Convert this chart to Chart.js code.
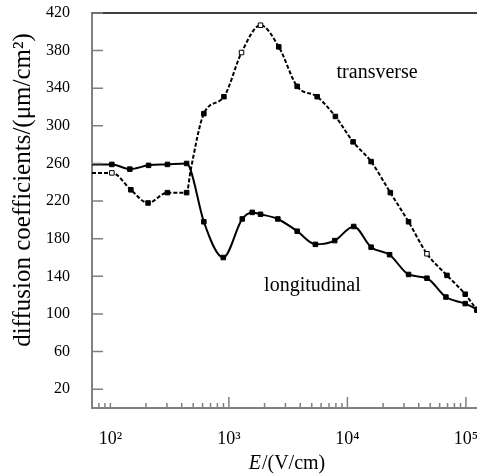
<!DOCTYPE html>
<html>
<head>
<meta charset="utf-8">
<script src="https://cdn.jsdelivr.net/npm/chart.js@4.4.0/dist/chart.umd.min.js"></script>
<style>
  html, body { margin: 0; padding: 0; background: #fff; overflow: hidden; }
  canvas { display: block; }
</style>
</head>
<body>
<canvas id="chart" width="477" height="475"></canvas>
<script>
// transverse diffusion coefficient (dashed curve)
const transE = [70, 103, 149, 208, 303, 440, 476, 615, 908, 1279, 1849, 2636, 3767, 5557, 7920, 11170, 15850, 23020, 32800, 46900, 69200, 98600, 124000];
const transD = [250, 250, 232, 218, 229, 229, 253, 313, 331, 378, 407, 384, 342, 331, 310, 283, 262, 229, 198, 164, 141, 121, 104];
const transOpen = [1, 9, 10, 19];
const transNoMark = [0, 6];

// longitudinal diffusion coefficient (solid curve)
const longE = [70, 103, 146, 210, 303, 440, 476, 615, 897, 1297, 1574, 1849, 2588, 3767, 5370, 7820, 11300, 15850, 22700, 32800, 46900, 67800, 98600, 124000];
const longD = [259, 259, 254, 258, 259, 260, 253, 198, 160, 201, 208, 206, 201, 188, 174, 178, 193, 171, 163, 142, 138, 118, 111, 105];
const longNoMark = [0, 6];

// axes
const xMin = 70, xMax = 124000;
const yMin = 0, yMax = 420;
const xDecades = [100, 1000, 10000, 100000];
const yTicks = [20, 60, 100, 140, 180, 220, 260, 300, 340, 380, 420];

// curve labels, placed in data coordinates
const transLabel = { text: 'transverse', x: 17800, y: 357 };
const longLabel = { text: 'longitudinal', x: 5070, y: 130 };

const serif = "'Liberation Serif', 'Times New Roman', serif";
const sup = { '0': '\u2070', '1': '\u00b9', '2': '\u00b2', '3': '\u00b3', '4': '\u2074', '5': '\u2075' };

function toPoints(xs, ys) {
    return xs.map((v, i) => ({ x: v, y: ys[i] }));
}

// inward ticks, top frame, titles and curve labels
const decorations = {
    id: 'decorations',
    afterDraw(chart) {
        const { ctx, chartArea: a, scales: { x, y } } = chart;
        ctx.save();

        ctx.strokeStyle = '#000';
        ctx.lineWidth = 1.5;
        ctx.beginPath();
        ctx.moveTo(a.left, a.top);
        ctx.lineTo(a.right, a.top);
        ctx.stroke();

        ctx.strokeStyle = '#808080';
        ctx.lineWidth = 1.5;
        ctx.beginPath();
        yTicks.forEach(v => {
            const py = y.getPixelForValue(v);
            ctx.moveTo(a.left, py);
            ctx.lineTo(a.left + 11, py);
        });
        for (let d = 10; d <= 100000; d *= 10) {
            for (let m = 1; m <= 9; m++) {
                const v = m * d;
                if (v < xMin || v > xMax) continue;
                const px = x.getPixelForValue(v);
                const len = (m === 1 && d >= 1000) ? 11 : 5;
                ctx.moveTo(px, a.bottom);
                ctx.lineTo(px, a.bottom - len);
            }
        }
        ctx.stroke();

        ctx.fillStyle = '#000';
        ctx.textBaseline = 'middle';
        ctx.textAlign = 'center';
        ctx.font = '20px ' + serif;
        [transLabel, longLabel].forEach(l => {
            ctx.fillText(l.text, x.getPixelForValue(l.x), y.getPixelForValue(l.y));
        });

        // y title
        ctx.save();
        ctx.translate(23, 190);
        ctx.rotate(-Math.PI / 2);
        ctx.font = '25px ' + serif;
        ctx.fillText('diffusion coefficients/(\u03bcm/cm\u00b2)', 0, 0);
        ctx.restore();

        // x title with italic E
        const part1 = 'E', part2 = '/(V/cm)';
        ctx.font = 'italic 20px ' + serif;
        const w1 = ctx.measureText(part1).width;
        ctx.font = '20px ' + serif;
        const w2 = ctx.measureText(part2).width;
        let tx = 287 - (w1 + w2 + 1) / 2;
        ctx.textAlign = 'left';
        ctx.font = 'italic 20px ' + serif;
        ctx.fillText(part1, tx, 464);
        ctx.font = '20px ' + serif;
        ctx.fillText(part2, tx + w1 + 1, 464);

        ctx.restore();
    }
};

const ctx = document.getElementById('chart').getContext('2d');
new Chart(ctx, {
    type: 'line',
    data: {
        datasets: [{
            label: 'transverse',
            data: toPoints(transE, transD),
            borderColor: '#000',
            borderWidth: 2,
            borderDash: [4, 2],
            cubicInterpolationMode: 'monotone',
            pointStyle: 'rect',
            pointRadius: c => transNoMark.includes(c.dataIndex) ? 0 : 3.2,
            pointBackgroundColor: c => transOpen.includes(c.dataIndex) ? '#fff' : '#000',
            pointBorderColor: '#000',
            pointBorderWidth: 1
        }, {
            label: 'longitudinal',
            data: toPoints(longE, longD),
            borderColor: '#000',
            borderWidth: 2,
            cubicInterpolationMode: 'monotone',
            pointStyle: 'rect',
            pointRadius: c => longNoMark.includes(c.dataIndex) ? 0 : 3.2,
            pointBackgroundColor: '#000',
            pointBorderColor: '#000',
            pointBorderWidth: 1
        }]
    },
    options: {
        responsive: false,
        animation: false,
        layout: { autoPadding: false, padding: { top: 13, left: 0, right: 0, bottom: 0 } },
        plugins: {
            legend: { display: false },
            tooltip: { enabled: false }
        },
        scales: {
            x: {
                type: 'logarithmic',
                min: xMin,
                max: xMax,
                grid: { display: false, drawTicks: false },
                border: { display: true, color: '#808080', width: 2 },
                afterBuildTicks: s => { s.ticks = xDecades.map(v => ({ value: v })); },
                afterFit: s => {
                    s.height = 67;
                    s.paddingLeft = 0; s.paddingRight = 0;
                    s.paddingTop = 0; s.paddingBottom = 0;
                },
                ticks: {
                    autoSkip: false,
                    maxRotation: 0,
                    padding: 20,
                    color: '#000',
                    font: { family: serif, size: 18 },
                    callback: v => '10' + String(Math.round(Math.log10(v))).split('').map(c => sup[c]).join('')
                }
            },
            y: {
                min: yMin,
                max: yMax,
                grid: { display: false, drawTicks: false },
                border: { display: true, color: '#808080', width: 2 },
                afterBuildTicks: s => { s.ticks = yTicks.map(v => ({ value: v })); },
                afterFit: s => {
                    s.width = 92;
                    s.paddingLeft = 0; s.paddingRight = 0;
                    s.paddingTop = 0; s.paddingBottom = 0;
                },
                ticks: {
                    autoSkip: false,
                    padding: 22,
                    color: '#000',
                    font: { family: serif, size: 16 }
                }
            }
        }
    },
    plugins: [decorations]
});
</script>
</body>
</html>
